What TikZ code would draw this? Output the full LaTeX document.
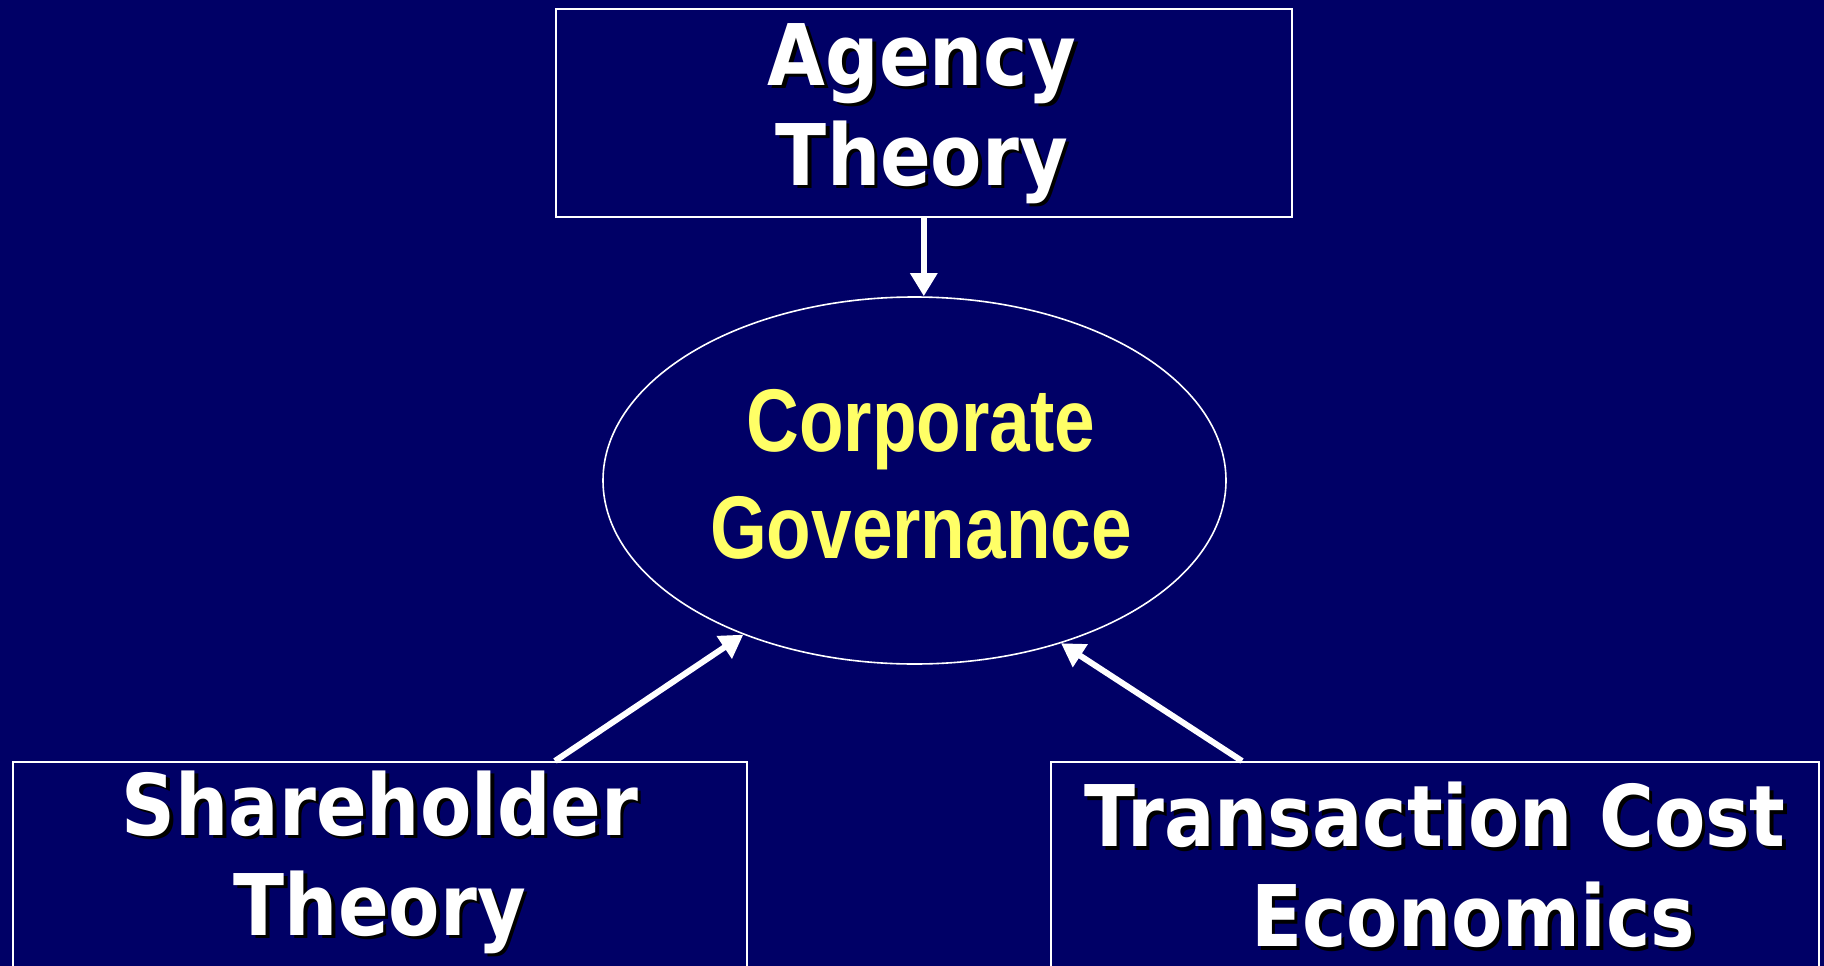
\documentclass[tikz,border=0pt]{standalone}
\usepackage{fontspec}
\newfontfamily\wfont{DejaVu Sans}[FakeStretch=0.88]
\newfontfamily\yfont{Liberation Sans}[FakeStretch=0.82]
\usetikzlibrary{shapes.geometric,arrows.meta}
\definecolor{bg}{RGB}{0,0,102}
\definecolor{yel}{RGB}{255,255,102}
\newcommand\shd[1]{\leavevmode\rlap{\kern3.5pt\raisebox{-3.5pt}{\color{black}#1}}#1}
\tikzset{
  boxline/.style={draw=white, line width=1.6pt},
  wtext/.style={text=white, align=center, inner sep=0pt, font=\wfont\bfseries\fontsize{85}{100}\selectfont},
  ytext/.style={text=yel, align=center, inner sep=0pt, font=\yfont\bfseries\fontsize{89}{107}\selectfont},
  arr/.style={draw=white, line width=6pt, -{Triangle[width=26pt,length=23pt]}},
}
\begin{document}
\begin{tikzpicture}[x=1pt,y=-1pt]
\fill[bg] (0,0) rectangle (1824,966);
\useasboundingbox (0,0) rectangle (1824,966);
% boxes
\node[boxline, rectangle, minimum width=736pt, minimum height=208pt, anchor=north west, inner sep=0pt] (ag) at (555,8) {};
\node[boxline, rectangle, minimum width=734pt, minimum height=230pt, anchor=north west, inner sep=0pt] (sh) at (12,761) {};
\node[boxline, rectangle, minimum width=768pt, minimum height=230pt, anchor=north west, inner sep=0pt] (tc) at (1050,761) {};
\node[draw=white, line width=1.6pt, ellipse, minimum width=623pt, minimum height=367pt, inner sep=0pt] (cg) at (914.5,480.5) {};
% texts
\node[wtext] (agt) at (922,115) {\shd{Agency}\\\shd{Theory}};
\node[ytext] (cgt) at (921,474) {Corporate\\Governance};
\node[wtext] (sht) at (380,864) {\shd{Shareholder}\\\shd{Theory}};
\node[wtext] (tct) at (1435,867) {\shd{Transaction Cost}\\\hspace*{0.9em}\shd{Economics}};
% arrows
\coordinate (shtail) at (555,761);
\coordinate (tctail) at (1242,761);
\draw[arr] (ag.south) -- (ag.south |- cg.north);
\draw[arr] (shtail) -- (cg.222);
\draw[arr] (tctail) -- (cg.312);
\end{tikzpicture}
\end{document}
